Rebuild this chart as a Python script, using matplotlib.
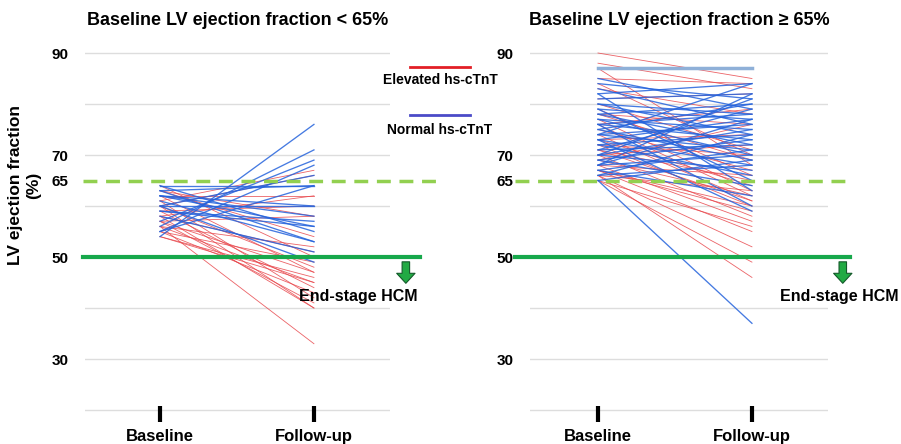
import matplotlib
matplotlib.use('Agg')
import matplotlib.pyplot as plt
from matplotlib.lines import Line2D

plt.rcParams['font.family'] = ['Liberation Sans', 'DejaVu Sans']
plt.rcParams['font.weight'] = 'bold'

# ---- data (baseline, follow-up LV EF %) ----
# left panel: baseline EF < 65%
left_blue_base = [54, 56, 57, 55, 60, 64, 63, 62, 60, 59, 62, 64, 63, 61, 58, 60, 59, 62, 55]
left_blue_fu   = [76, 71, 69, 68, 66, 64, 64, 60, 60, 57, 56, 55, 53, 53, 51, 49, 56, 58, 64]
left_red_base  = [61, 60, 58, 62, 59, 63, 57, 56, 58, 55, 60, 57, 62, 54, 56, 59, 55, 61, 57, 58, 60, 54, 56, 63, 64]
left_red_fu    = [67, 66, 62, 62, 60, 58, 58, 52, 51, 49, 48, 47, 47, 46, 45, 44, 43, 42, 41, 40, 40, 45, 33, 54, 50]

# right panel: baseline EF >= 65%
right_blue_base = [84, 85, 83, 82, 81, 80, 80, 79, 78, 78, 77, 77, 76, 76, 75, 75, 74, 74, 73, 73, 72, 72,
                   71, 71, 70, 70, 69, 69, 68, 68, 67, 67, 66, 66, 65, 65, 79, 82, 76, 73, 70, 68, 74]
right_blue_fu   = [81, 79, 76, 84, 82, 74, 78, 77, 72, 80, 75, 70, 78, 73, 69, 80, 76, 71, 77, 68, 74, 66,
                   79, 72, 75, 67, 73, 64, 70, 77, 71, 62, 74, 68, 69, 37, 65, 63, 60, 59, 81, 82, 84]
right_pale_base = [87]
right_pale_fu   = [87]
right_red_base  = [90, 88, 87, 85, 84, 83, 81, 80, 79, 78, 77, 76, 75, 74, 73, 72, 72, 71, 70, 70,
                   69, 69, 68, 68, 67, 67, 66, 66, 65, 65, 66, 67, 71, 73, 76, 78]
right_red_fu    = [85, 83, 68, 84, 70, 78, 82, 71, 66, 76, 63, 79, 67, 61, 74, 70, 60, 65, 58, 72,
                   62, 76, 57, 66, 60, 55, 63, 52, 56, 49, 46, 59, 61, 64, 62, 69]

y_ticks = [90, 70, 65, 50, 30]
grid_vals = [20, 30, 40, 50, 60, 70, 80, 90]
x_labels = ['Baseline', 'Follow-up']

RED = '#e8474c'
BLUE = '#2563dc'
GREEN = '#17a84b'
LIME = '#92d050'

W, H = 901, 444
fig = plt.figure(figsize=(W / 100, H / 100), dpi=100)

def px_ax(x0, x1, y0, y1):
    return fig.add_axes([x0 / W, 1 - y1 / H, (x1 - x0) / W, (y1 - y0) / H])

ylim = (19.22, 92.55)

def panel(ax, xlim, title, blue, red, pale, solid_ext, dash_ext, arrow_x, text_x):
    ax.set_xlim(*xlim)
    ax.set_ylim(*ylim)
    for s in ax.spines.values():
        s.set_visible(False)
    for g in grid_vals:
        ax.axhline(g, color='#dddddd', lw=1, zorder=0)
    for b, f in zip(*red):
        ax.plot([1, 2], [b, f], color=RED, lw=0.6, alpha=0.85, zorder=2)
    for b, f in zip(*blue):
        ax.plot([1, 2], [b, f], color=BLUE, lw=0.95, alpha=0.85, zorder=3)
    if pale:
        for b, f in zip(*pale):
            ax.plot([1, 2], [b, f], color='#8fb0d8', lw=2.5, zorder=3)
    ax.plot(solid_ext, [50, 50], color=GREEN, lw=3, clip_on=False, zorder=4)
    ax.plot(dash_ext, [65, 65], color=LIME, lw=2.5, ls=(0, (4, 2.5)), clip_on=False, zorder=4)
    ax.annotate('', xy=(arrow_x, 44.3), xytext=(arrow_x, 49.6),
                arrowprops=dict(arrowstyle='simple,head_length=0.6,head_width=1.1,tail_width=0.45',
                                fc='#22aa44', ec='#145a2a', lw=0.8, mutation_scale=12),
                annotation_clip=False, zorder=5)
    ax.text(text_x, 42.2, 'End-stage HCM', ha='center', va='center', fontsize=11.5, fontweight='bold')
    ax.set_yticks(y_ticks)
    ax.set_yticklabels([str(v) for v in y_ticks], fontsize=11, fontweight='bold')
    ax.tick_params(axis='y', length=0, pad=12)
    ax.set_xticks([1, 2])
    ax.set_xticklabels(x_labels, fontsize=12, fontweight='bold')
    ax.tick_params(axis='x', direction='inout', length=11.5, width=3, color='black', pad=5)
    ax.set_title(title, fontsize=13, fontweight='bold', pad=11)

ax1 = px_ax(85, 390, 40, 414)
panel(ax1, (0.513, 2.494), 'Baseline LV ejection fraction < 65%',
      (left_blue_base, left_blue_fu), (left_red_base, left_red_fu), None,
      [0.5, 2.688], [0.5, 2.818], 2.597, 2.286)

ax2 = px_ax(530, 828, 40, 414)
panel(ax2, (0.5584, 2.494), 'Baseline LV ejection fraction \u2265 65%',
      (right_blue_base, right_blue_fu), (right_red_base, right_red_fu),
      (right_pale_base, right_pale_fu),
      [0.461, 2.636], [0.461, 2.636], 2.59, 2.565)

fig.text(25 / W, 1 - 185 / H, 'LV ejection fraction\n(%)', rotation=90, ha='center', va='center',
         fontsize=12.5, fontweight='bold', linespacing=1.25)

# legend drawn by hand
fig.add_artist(Line2D([410 / W, 470 / W], [1 - 67 / H, 1 - 67 / H], color='#e21f26', lw=2))
fig.text(440 / W, 1 - 80 / H, 'Elevated hs-cTnT', ha='center', va='center', fontsize=10, fontweight='bold')
fig.add_artist(Line2D([410 / W, 470 / W], [1 - 115 / H, 1 - 115 / H], color='#4b4bc8', lw=2))
fig.text(440 / W, 1 - 130 / H, 'Normal hs-cTnT', ha='center', va='center', fontsize=10, fontweight='bold')

fig.savefig('out.png', dpi=100)
